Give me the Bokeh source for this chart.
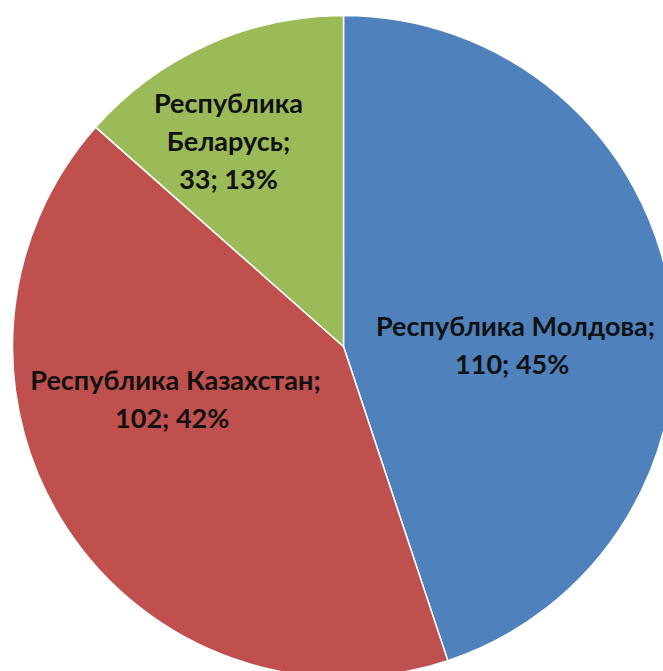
import math
from bokeh.plotting import figure
from bokeh.models import Range1d, ColumnDataSource
from bokeh.core.properties import value
from bokeh.embed import file_html
from bokeh.resources import INLINE

names = ["Республика Молдова", "Республика Казахстан", "Республика Беларусь"]
values = [110, 102, 33]
colors = ["#4F81BD", "#C0504D", "#9BBB59"]
label_texts = ["Республика Молдова;\n110;  45%", "Республика Казахстан;\n102;  42%", "Республика\nБеларусь;\n33; 13%"]

W, H = 663, 671
cx, cy, r = 343, 325, 331
# label offsets (layout) from the pie centre, in pixels
label_dx = [172, -168, -115]
label_dy = [2, -52, 206]

total = sum(values)
starts, ends = [], []
acc = 0.0
for v in values:
    starts.append(math.pi / 2 - 2 * math.pi * acc / total)
    acc += v
    ends.append(math.pi / 2 - 2 * math.pi * acc / total)

src = ColumnDataSource(dict(x=[cx] * 3, y=[cy] * 3, start=starts, end=ends, color=colors, name=names))

p = figure(width=W, height=H, x_range=Range1d(0, W), y_range=Range1d(0, H),
           output_backend="svg", toolbar_location=None, min_border=0)
p.axis.visible = False
p.grid.visible = False
p.outline_line_color = None
p.background_fill_color = "white"

p.wedge(x="x", y="y", radius=r, start_angle="start", end_angle="end", direction="clock",
        fill_color="color", line_color="white", line_width=1.5, source=src)

lsrc = ColumnDataSource(dict(x=[cx + d for d in label_dx], y=[cy + d for d in label_dy], t=label_texts))
p.text(x="x", y="y", text="t", source=lsrc, text_align="center", text_baseline="middle",
       text_font=value("Lato"), text_font_style="bold", text_font_size="27px",
       text_line_height=1.15, text_color="#111111")

open("out.html", "w").write(file_html(p, INLINE))
